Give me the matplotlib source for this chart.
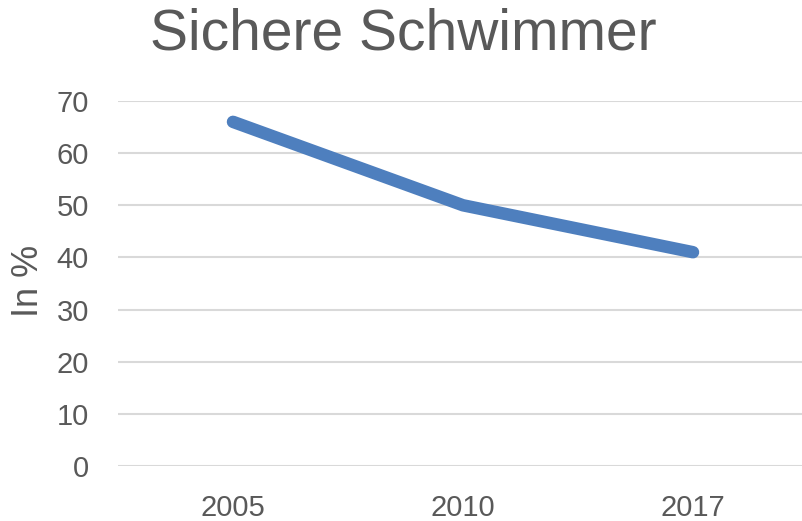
import matplotlib
matplotlib.use("Agg")
import matplotlib.pyplot as plt

years = ["2005", "2010", "2017"]
values = [66, 50, 41]
yticks = [0, 10, 20, 30, 40, 50, 60, 70]

plt.rcParams['font.family'] = ['Liberation Sans', 'DejaVu Sans']
txt = "#595959"

fig = plt.figure(figsize=(8.02, 5.21), dpi=100)
ax = fig.add_axes([118/802, 55/521, 690/802, 365/521])
x = list(range(len(years)))
ax.plot(x, values, color="#4E7FBE", lw=9, solid_capstyle="round", solid_joinstyle="round", zorder=3)
ax.set_xlim(-0.5, 2.5)
ax.set_ylim(0, 70)
ax.set_yticks(yticks)
ax.set_xticks(x)
ax.set_xticklabels(years)
ax.grid(axis='y', color="#d9d9d9", lw=1.5)
ax.set_axisbelow(True)
for s in ax.spines.values():
    s.set_visible(False)
ax.tick_params(axis='both', length=0, labelsize=21, labelcolor=txt)
ax.tick_params(axis='y', pad=21)
ax.tick_params(axis='x', pad=20)
fig.text(29/802, 1 - 281/521, "In %", fontsize=26, color=txt, ha='center', va='center', rotation=90)
fig.text(403/802, 1 - 35/521, "Sichere Schwimmer", fontsize=41, color=txt, ha='center', va='center')
fig.savefig("out.png", dpi=100)
